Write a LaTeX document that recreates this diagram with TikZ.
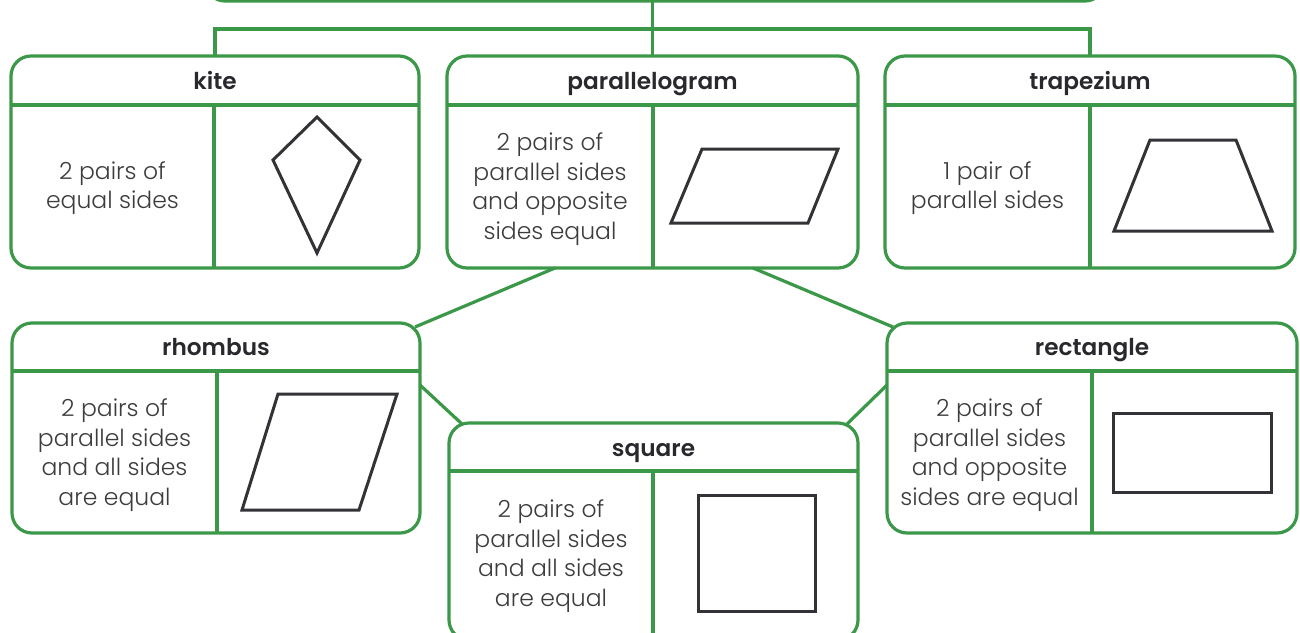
\documentclass[tikz,border=0pt]{standalone}
\usepackage{fontspec}
\setmainfont{Poppins}[BoldFont={* SemiBold}]
\newfontfamily\bodyfont{Poppins Light}
\usetikzlibrary{calc}
\definecolor{boxgreen}{RGB}{58,152,72}
\definecolor{txtgray}{RGB}{60,60,60}
\definecolor{hdrgray}{RGB}{40,40,45}
\definecolor{shapegray}{RGB}{50,50,55}
\tikzset{
  box/.style={draw=boxgreen, line width=3.2pt, rounded corners=20pt, inner sep=0pt, outer sep=0pt, anchor=north west},
  divline/.style={draw=boxgreen, line width=3.2pt},
  conn/.style={draw=boxgreen, line width=3.2pt},
  hdr/.style={font=\fontsize{23.2}{26}\selectfont\bfseries, text=hdrgray, anchor=base, inner sep=0pt},
  body/.style={font=\bodyfont\fontsize{23.5}{29.5}\selectfont, text=txtgray, align=center},
  fig/.style={draw=shapegray, line width=3pt, line join=miter}
}
\begin{document}
\begin{tikzpicture}[x=1pt,y=-1pt]
\useasboundingbox (0,0) rectangle (1300,632);
% top box (cut off)
\node[box, minimum width=900pt, minimum height=70pt] (top) at (205,-69) {};
% boxes
\node[box, minimum width=408pt, minimum height=212pt] (kite) at (11,56) {};
\node[box, minimum width=411pt, minimum height=212pt] (para) at (447,56) {};
\node[box, minimum width=410pt, minimum height=212pt] (trap) at (885,56) {};
\node[box, minimum width=408pt, minimum height=210pt] (rhom) at (12,323) {};
\node[box, minimum width=409pt, minimum height=217pt] (squ) at (449,423) {};
\node[box, minimum width=410pt, minimum height=210pt] (rect) at (887,323) {};
% dividers
\draw[divline] (11,105) -- (419,105) (214,105) -- (214,268);
\draw[divline] (447,105) -- (858,105) (653,105) -- (653,268);
\draw[divline] (885,105) -- (1295,105) (1090,105) -- (1090,268);
\draw[divline] (12,371) -- (420,371) (217,371) -- (217,533);
\draw[divline] (449,471) -- (858,471) (653,471) -- (653,640);
\draw[divline] (887,371) -- (1297,371) (1092,371) -- (1092,533);
% headers
\node[hdr] (kiteh) at (215,89) {kite};
\node[hdr] (parah) at (652.5,89) {parallelogram};
\node[hdr] (traph) at (1090,89) {trapezium};
\node[hdr] (rhomh) at (216,355) {rhombus};
\node[hdr] (squh) at (653.5,456) {square};
\node[hdr] (recth) at (1092,355) {rectangle};
% body texts
\node[body] (kitet) at (112.5,188) {2 pairs of\\equal sides};
\node[body] (parat) at (550,189) {2 pairs of\\parallel sides\\and opposite\\sides equal};
\node[body] (trapt) at (987.5,188) {1 pair of\\parallel sides};
\node[body] (rhomt) at (114.5,455) {2 pairs of\\parallel sides\\and all sides\\are equal};
\node[body] (squt) at (551,556) {2 pairs of\\parallel sides\\and all sides\\are equal};
\node[body] (rectt) at (989.5,455) {2 pairs of\\parallel sides\\and opposite\\sides are equal};
% figures
\draw[fig] (317,117) -- (360,160) -- (317,253) -- (273,160) -- cycle;
\draw[fig] (702,149) -- (838,149) -- (808,223) -- (671,223) -- cycle;
\draw[fig] (1150,140) -- (1236,140) -- (1272,231) -- (1114,231) -- cycle;
\draw[fig] (278,394) -- (397,394) -- (359,510) -- (242,510) -- cycle;
\draw[fig] (698,495) rectangle (815,611);
\draw[fig] (1113,413) rectangle (1271,492);
% connectors
\coordinate (bus) at (653,29);
\draw[conn] (kite.north) |- (bus) -| (trap.north);
\draw[conn] (para.north) -- (para.north |- top.south);
\draw[conn] ($(para.south)+(-97.5,0)$) -- ($(rhom.north east)+(-5,4)$);
\draw[conn] ($(para.south)+(100.5,0)$) -- ($(rect.north west)+(6,4)$);
\draw[conn] ($(rhom.north east)+(0,62)$) -- ($(squ.north west)+(13,1)$);
\draw[conn] ($(rect.north west)+(0,62)$) -- ($(squ.north east)+(-11,1)$);
\end{tikzpicture}
\end{document}
